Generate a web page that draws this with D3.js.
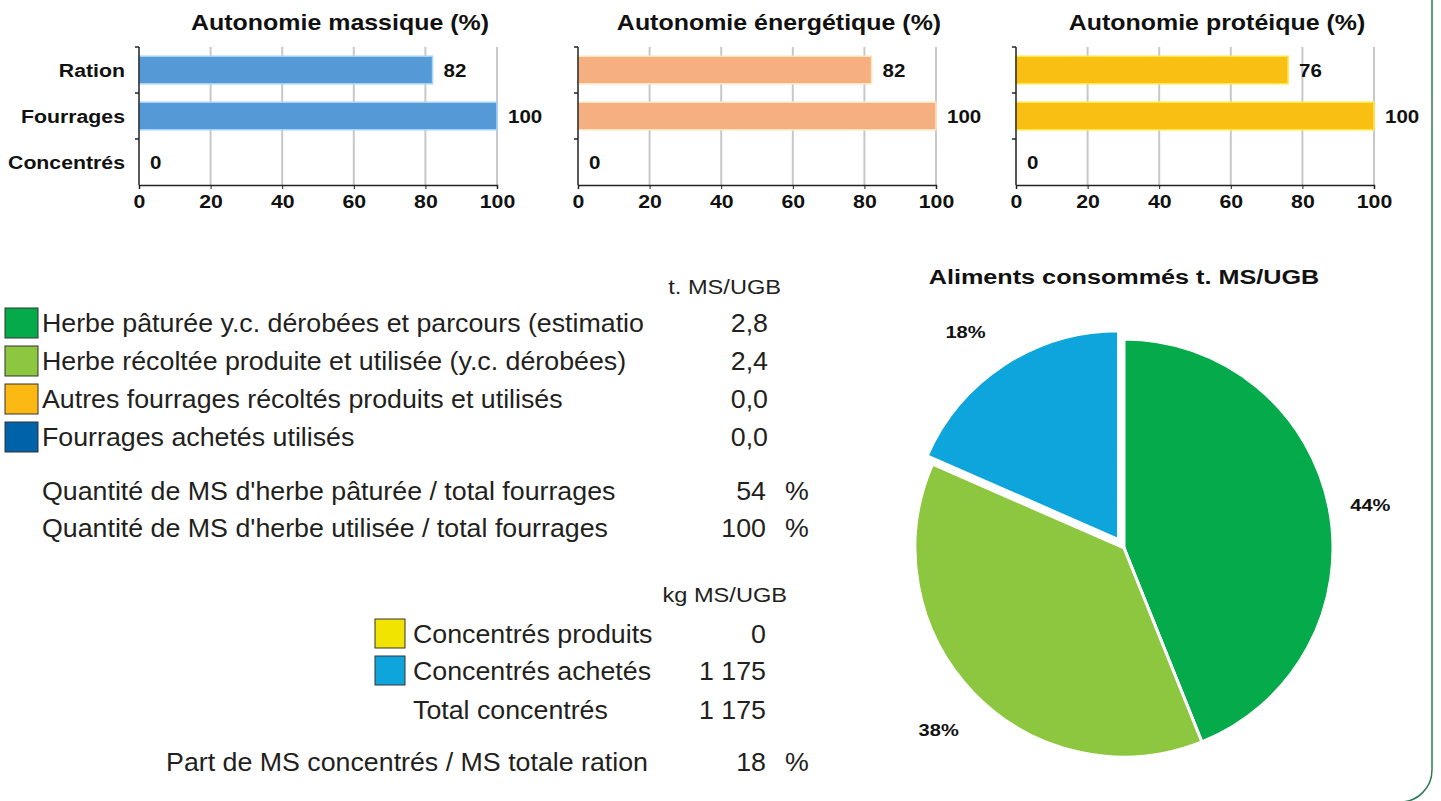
<!DOCTYPE html>
<html>
<head>
<meta charset="utf-8">
<script src="https://d3js.org/d3.v7.min.js"></script>
<style>
  body { margin: 0; background: #fff; }
  svg { display: block; }
  .bold { font-family: "Liberation Sans", Arial, sans-serif; font-weight: bold; fill: #111; }
  .txt { font-family: "Liberation Sans", Arial, sans-serif; fill: #231f20; }
</style>
</head>
<body>
<svg id="vis"></svg>
<script>
  var W = 1441, H = 801

  // bar charts data
  var categories = ['Ration', 'Fourrages', 'Concentrés']
  var massique = [82, 100, 0]
  var energetique = [82, 100, 0]
  var proteique = [76, 100, 0]
  var barTitles = ['Autonomie massique (%)', 'Autonomie énergétique (%)', 'Autonomie protéique (%)']
  var barColors = ['#559ad6', '#f5af80', '#f9c013']
  var barStrokes = ['#a9d4f5', '#fde8c0', '#ffe94a']
  var xTicks = [0, 20, 40, 60, 80, 100]

  // fourrages table
  var fourrageLabels = ['Herbe pâturée y.c. dérobées et parcours (estimatio',
    'Herbe récoltée produite et utilisée (y.c. dérobées)',
    'Autres fourrages récoltés produits et utilisés',
    'Fourrages achetés utilisés']
  var fourrageValues = [2.8, 2.4, 0.0, 0.0]
  var fourrageColors = ['#05ab4b', '#8dc63f', '#fdb913', '#0062a8']
  var herbeLabels = ["Quantité de MS d'herbe pâturée / total fourrages",
    "Quantité de MS d'herbe utilisée / total fourrages"]
  var herbeValues = [54, 100]

  // concentres table
  var concLabels = ['Concentrés produits', 'Concentrés achetés']
  var concValues = [0, 1175]
  var concColors = ['#f0e400', '#0ea5dc']
  var partConcentres = 18

  var svg = d3.select('#vis').attr('width', W).attr('height', H)

  // text helper, the source fonts are a bit wider than Liberation Sans
  function label(parent, x, y, str, size, cls, anchor, sx) {
    return parent.append('text')
      .attr('class', cls)
      .attr('transform', 'translate(' + x + ',' + y + ') scale(' + (sx || 1) + ',1)')
      .attr('dy', '0.35em')
      .attr('text-anchor', anchor || 'start')
      .style('font-size', size + 'px')
      .text(str)
  }

  // outer frame (rounded corner on right)
  svg.append('rect')
    .attr('x', -30).attr('y', -40)
    .attr('width', 1462).attr('height', 842)
    .attr('rx', 32)
    .attr('fill', 'none')
    .attr('stroke', '#2d7a57')
    .attr('stroke-width', 1.5)

  var seriesList = [massique, energetique, proteique]
  var chartLeft = [139, 578, 1016]
  var chartW = 358, plotTop = 47, plotBottom = 185

  seriesList.forEach(function(values, i) {
    var g = svg.append('g')
    var x = d3.scaleLinear().domain([0, 100]).range([chartLeft[i], chartLeft[i] + chartW])
    var y = d3.scaleBand().domain(categories).range([plotTop, plotBottom])
      .paddingInner(0.4).paddingOuter(0.2)

    // grid
    g.selectAll('.grid').data(xTicks.slice(1)).enter().append('line')
      .attr('x1', d => x(d)).attr('x2', d => x(d))
      .attr('y1', plotTop).attr('y2', plotBottom)
      .attr('stroke', '#c8c8c8').attr('stroke-width', 2)

    // bars
    g.selectAll('.bar').data(values).enter().append('rect')
      .attr('x', x(0))
      .attr('y', (d, j) => y(categories[j]))
      .attr('width', d => x(d) - x(0))
      .attr('height', y.bandwidth())
      .attr('fill', barColors[i])
      .attr('stroke', d => d > 0 ? barStrokes[i] : 'none')
      .attr('stroke-width', 1.5)

    // value labels
    values.forEach(function(v, j) {
      label(g, x(v) + 11, y(categories[j]) + y.bandwidth() / 2, v, 19, 'bold', 'start', 1.08)
    })

    // x axis
    var ax = g.append('g').attr('transform', 'translate(0,' + plotBottom + ')')
      .call(d3.axisBottom(x).tickValues(xTicks).tickSize(4).tickPadding(6))
    ax.select('.domain').attr('stroke', '#222').attr('stroke-width', 1.5)
    ax.selectAll('.tick line').attr('stroke', '#222')
    ax.selectAll('text').attr('class', 'bold').style('font-size', '19px')
      .attr('fill', '#111').attr('transform', 'scale(1.12,1)')

    // y axis line + ticks at band boundaries
    g.append('line')
      .attr('x1', x(0)).attr('x2', x(0))
      .attr('y1', plotTop).attr('y2', plotBottom)
      .attr('stroke', '#222').attr('stroke-width', 1.5)
    var step = y.step()
    g.selectAll('.ytick').data(d3.range(3)).enter().append('line')
      .attr('x1', x(0) - 4).attr('x2', x(0))
      .attr('y1', d => plotTop + d * step).attr('y2', d => plotTop + d * step)
      .attr('stroke', '#222').attr('stroke-width', 1.5)

    if (i == 0) {
      categories.forEach(function(c) {
        label(g, x(0) - 14, y(c) + y.bandwidth() / 2, c, 19, 'bold', 'end', 1.12)
      })
    }

    // title (sits a little right of the plot centre)
    label(g, chartLeft[i] + chartW / 2 + 22, 22, barTitles[i], 23, 'bold', 'middle', 1.085)
  })

  // ---- left tables ----
  var fmt1 = v => d3.format('.1f')(v).replace('.', ',')
  var fmtInt = v => d3.format(',')(v).replace(/,/g, ' ')
  var valX = 768, pctX = 785, fs = 26, sx = 1.03

  label(svg, 781, 287, 't. MS/UGB', 20, 'txt', 'end', 1.18)

  var rowY = d3.scalePoint().domain(d3.range(4)).range([323, 437])
  fourrageLabels.forEach(function(lab, j) {
    var cy = rowY(j)
    svg.append('rect')
      .attr('x', 5).attr('y', cy - 15).attr('width', 33).attr('height', 30)
      .attr('fill', fourrageColors[j]).attr('stroke', '#333').attr('stroke-width', 1)
    label(svg, 42, cy, lab, fs, 'txt', 'start', sx)
    label(svg, valX, cy, fmt1(fourrageValues[j]), fs, 'txt', 'end', sx)
  })

  var herbeY = [491, 528]
  herbeLabels.forEach(function(lab, j) {
    label(svg, 42, herbeY[j], lab, fs, 'txt', 'start', sx)
    label(svg, 766, herbeY[j], herbeValues[j], fs, 'txt', 'end', sx)
    label(svg, pctX, herbeY[j], '%', fs, 'txt', 'start', sx)
  })

  label(svg, 787, 595, 'kg MS/UGB', 20, 'txt', 'end', 1.18)

  var concRows = concLabels.concat(['Total concentrés'])
  var concVals = concValues.concat([d3.sum(concValues)])
  var concY = [634, 671, 710]
  concRows.forEach(function(lab, j) {
    if (j < concColors.length) {
      svg.append('rect')
        .attr('x', 375).attr('y', concY[j] - 15).attr('width', 30).attr('height', 29)
        .attr('fill', concColors[j]).attr('stroke', '#333').attr('stroke-width', 1)
    }
    label(svg, 413, concY[j], lab, fs, 'txt', 'start', sx)
    label(svg, 766, concY[j], fmtInt(concVals[j]), fs, 'txt', 'end', sx)
  })

  label(svg, 648, 762, 'Part de MS concentrés / MS totale ration', fs, 'txt', 'end', sx)
  label(svg, 766, 762, partConcentres, fs, 'txt', 'end', sx)
  label(svg, pctX, 762, '%', fs, 'txt', 'start', sx)

  // ---- pie ----
  var pieValues = fourrageValues.concat(concValues.map(v => v / 1000))
  var pieColors = fourrageColors.concat(concColors)
  var cx = 1124, cy = 548, r = 209
  var total = d3.sum(pieValues)

  label(svg, cx, 277, 'Aliments consommés t. MS/UGB', 21, 'bold', 'middle', 1.2)

  var pie = d3.pie().sort(null).value(d => d)
  var arcs = pie(pieValues).filter(d => d.value > 0)
  var arc = d3.arc().innerRadius(0).outerRadius(r)
  var labelArc = d3.arc().innerRadius(254).outerRadius(254)
  var pg = svg.append('g').attr('transform', 'translate(' + cx + ',' + cy + ')')

  function explode(d) {
    // the concentrate slice is pulled out a little
    if (d.index < fourrageValues.length) return [0, 0]
    var a = (d.startAngle + d.endAngle) / 2
    return [Math.sin(a) * 10, -Math.cos(a) * 10]
  }

  pg.selectAll('path').data(arcs).enter().append('path')
    .attr('d', arc)
    .attr('fill', d => pieColors[d.index])
    .attr('stroke', '#fff').attr('stroke-width', 3)
    .attr('transform', d => 'translate(' + explode(d) + ')')

  arcs.forEach(function(d) {
    var c = labelArc.centroid(d), o = explode(d)
    var dx = d.index < fourrageValues.length ? -3 : -14
    label(pg, c[0] + o[0] + dx, c[1] + o[1] + 5, Math.round(d.value / total * 100) + '%', 17, 'bold', 'middle', 1.18)
  })
</script>
</body>
</html>
